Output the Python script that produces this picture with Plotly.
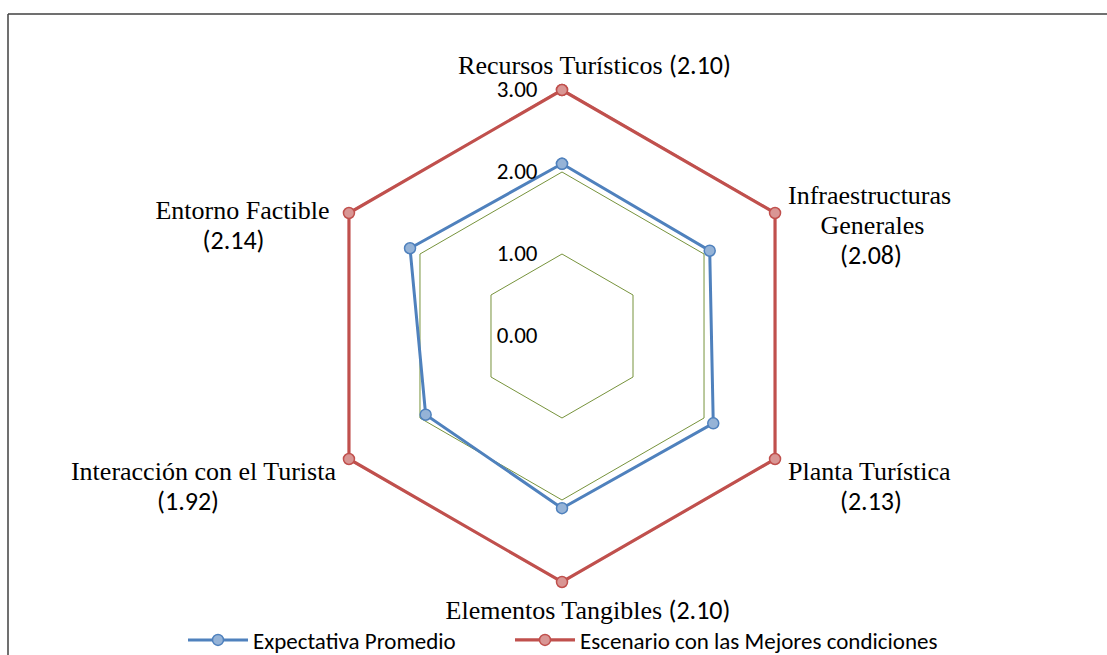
import plotly.graph_objects as go

categories = ["Recursos Turísticos", "Infraestructuras Generales", "Planta Turística",
              "Elementos Tangibles", "Interacción con el Turista", "Entorno Factible"]
expectativa = [2.10, 2.08, 2.13, 2.10, 1.92, 2.14]
mejores = [3.00, 3.00, 3.00, 3.00, 3.00, 3.00]
radial_ticks = [0, 1, 2, 3]
radial_labels = ["0.00", "1.00", "2.00", "3.00"]

SERIF = "Liberation Serif, Times New Roman, serif"
SANS = "Carlito, Calibri, Liberation Sans, sans-serif"


def nb(n):
    return "&nbsp;" * n


def num(v):
    return f'<span style="font-family:{SANS}">({v:.2f})</span>'


def s26(txt):
    return f'<span style="font-size:26px">{txt}</span>'


def n26(v):
    return f'<span style="font-family:{SANS};font-size:26px">({v:.2f})</span>'


v = expectativa
# top / bottom category labels drawn as angular-axis tick labels
tick_text = [
    f"{nb(10)}{categories[0]} {num(v[0])}",
    "",
    "",
    f"{nb(8)}{categories[3]} {num(v[3])}",
    "",
    "",
]
# side category labels drawn as text at the outer ring (r = 3)
side_idx = [1, 2, 4, 5]
side_pos = ["middle right", "middle right", "middle left", "middle left"]
side_text = [
    "<br>".join([s26(nb(1)), s26(nb(2) + "Infraestructuras"), s26(nb(7) + "Generales"),
                 s26(nb(10)) + n26(v[1])]),
    "<br>".join([s26(nb(1)), s26(nb(1)), s26(nb(2) + "Planta Turística"),
                 s26(nb(10)) + n26(v[2])]),
    "<br>".join([s26(nb(1)), s26(nb(1)), s26("Interacción con el Turista" + nb(2)),
                 n26(v[4]) + s26(nb(20))]),
    "<br>".join([s26(nb(1)), s26("Entorno Factible" + nb(3)), n26(v[5]) + s26(nb(13))]),
]
theta_ids = list(range(len(categories)))

fig = go.Figure()
fig.add_trace(go.Scatterpolar(
    r=expectativa + expectativa[:1], theta=theta_ids + theta_ids[:1],
    mode="lines+markers", name="Expectativa Promedio", cliponaxis=False,
    line=dict(color="#4F81BD", width=3),
    marker=dict(size=11, color="#95B3D7", line=dict(color="#4F81BD", width=1.5)),
    legend="legend",
))
fig.add_trace(go.Scatterpolar(
    r=mejores + mejores[:1], theta=theta_ids + theta_ids[:1],
    mode="lines+markers", name="Escenario con las Mejores condiciones", cliponaxis=False,
    line=dict(color="#C0504D", width=3.2),
    marker=dict(size=11, color="#D99694", line=dict(color="#C0504D", width=1.5)),
    legend="legend2",
))
# side category labels (base size 23 gives ~30px line spacing, glyphs at 26px)
fig.add_trace(go.Scatterpolar(
    r=[mejores[i] for i in side_idx], theta=[theta_ids[i] for i in side_idx],
    text=side_text, mode="text", textposition=side_pos, cliponaxis=False,
    textfont=dict(family=SERIF, size=23, color="black"),
    showlegend=False, hoverinfo="skip",
))

W, H = 1107, 655
cx, cy, R = 562, 336, 246          # centre and pixel radius of the value 3
r_max = 3.03                       # small headroom so the outer line is not clipped
Rd = R * r_max / 3
legend_common = dict(
    orientation="h", xanchor="left", y=(H - 640) / H, yanchor="middle",
    font=dict(family=SANS, size=23, color="black"),
    itemwidth=60, bgcolor="rgba(0,0,0,0)",
)
frame = dict(type="line", xref="paper", yref="paper",
             line=dict(color="#404040", width=1.5))
fig.update_layout(
    width=W, height=H,
    margin=dict(l=0, r=0, t=0, b=0, autoexpand=False),
    paper_bgcolor="white",
    font=dict(family=SERIF, size=26, color="black"),
    polar=dict(
        domain=dict(x=[(cx - Rd) / W, (cx + Rd) / W],
                    y=[(H - cy - Rd) / H, (H - cy + Rd) / H]),
        gridshape="linear",
        bgcolor="white",
        angularaxis=dict(
            type="category",
            tickmode="array", tickvals=theta_ids, ticktext=tick_text,
            rotation=90, direction="clockwise",
            showgrid=False, showline=False,
            ticks="outside", ticklen=3, tickcolor="rgba(0,0,0,0)",
            tickfont=dict(family=SERIF, size=26, color="black"),
        ),
        radialaxis=dict(
            range=[0, r_max], tickmode="array", tickvals=radial_ticks, ticktext=radial_labels,
            angle=90, side="counterclockwise", tickangle=90,
            showticklabels=True, showline=False,
            ticks="outside", ticklen=16, tickcolor="rgba(0,0,0,0)",
            tickfont=dict(family=SANS, size=23, color="black"),
            gridcolor="#77933C", gridwidth=1.3,
        ),
    ),
    legend=dict(x=183 / W, **legend_common),
    legend2=dict(x=510 / W, **legend_common),
    shapes=[
        dict(frame, x0=8 / W, x1=1, y0=1 - 14 / H, y1=1 - 14 / H),
        dict(frame, x0=8 / W, x1=8 / W, y0=0, y1=1 - 14 / H),
    ],
)

fig.write_html("out.html", config={"displayModeBar": False},
               post_script="document.body.style.margin='0';")
